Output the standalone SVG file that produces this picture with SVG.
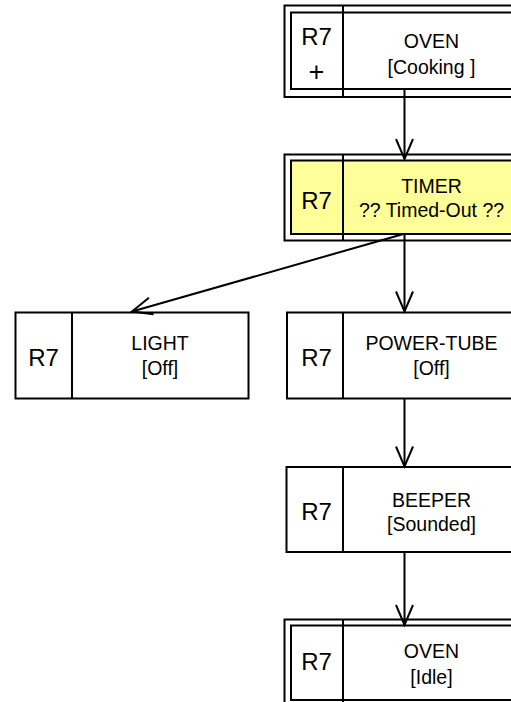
<svg xmlns="http://www.w3.org/2000/svg" width="511" height="702" viewBox="0 0 511 702">
<style>
.b{fill:#fff;stroke:#000;stroke-width:2}
.y{fill:#FFFF99;stroke:#000;stroke-width:2}
.d{stroke:#000;stroke-width:2}
.c{fill:none;stroke:#000;stroke-width:2}
.r{font-family:"Liberation Sans",Arial,sans-serif;font-size:24px;text-anchor:middle;fill:#000}
.t{font-family:"Liberation Sans",Arial,sans-serif;font-size:19.5px;text-anchor:middle;fill:#000}
</style>
<defs>
<marker id="ah" markerUnits="userSpaceOnUse" markerWidth="40" markerHeight="40" refX="0" refY="0" orient="auto" overflow="visible">
<path d="M-20,-8.5 L0,0 L-20,8.5" fill="none" stroke="#000" stroke-width="2"/>
</marker>
</defs>
<rect width="511" height="702" fill="#fff"/>
<g id="oven-cooking">
<rect class="b" x="284.5" y="5.5" width="240" height="91.5"/>
<rect class="b" x="291" y="12.5" width="230" height="76.5"/>
<line class="d" x1="343" y1="5.5" x2="343" y2="97"/>
<text class="r" x="316.5" y="45">R7</text>
<text class="r" x="316.5" y="81" style="font-size:27px">+</text>
<text class="t" x="431.5" y="48">OVEN</text>
<text class="t" x="431.5" y="74">[Cooking ]</text>
</g>
<g id="timer">
<rect class="b" x="284.5" y="154.5" width="240" height="86"/>
<rect class="y" x="291" y="160.5" width="230" height="73.5"/>
<line class="d" x1="343" y1="154.5" x2="343" y2="240.5"/>
<text class="r" x="316.5" y="209">R7</text>
<text class="t" x="431.5" y="193">TIMER</text>
<text class="t" x="431.5" y="217">?? Timed-Out ??</text>
</g>
<g id="light">
<rect class="b" x="15.5" y="312.5" width="233" height="86"/>
<line class="d" x1="72" y1="312.5" x2="72" y2="398.5"/>
<text class="r" x="43.5" y="366">R7</text>
<text class="t" x="160" y="350">LIGHT</text>
<text class="t" x="160" y="375">[Off]</text>
</g>
<g id="power-tube">
<rect class="b" x="287" y="312.5" width="233" height="86"/>
<line class="d" x1="343" y1="312.5" x2="343" y2="398.5"/>
<text class="r" x="316.5" y="366">R7</text>
<text class="t" x="431.5" y="350">POWER-TUBE</text>
<text class="t" x="431.5" y="375">[Off]</text>
</g>
<g id="beeper">
<rect class="b" x="286.5" y="467" width="233" height="85"/>
<line class="d" x1="343" y1="467" x2="343" y2="552"/>
<text class="r" x="316.5" y="520">R7</text>
<text class="t" x="431.5" y="507">BEEPER</text>
<text class="t" x="431.5" y="531">[Sounded]</text>
</g>
<g id="oven-idle">
<rect class="b" x="284.5" y="619.5" width="240" height="87"/>
<rect class="b" x="291" y="625.5" width="230" height="74.5"/>
<line class="d" x1="343" y1="619.5" x2="343" y2="706"/>
<text class="r" x="316.5" y="670">R7</text>
<text class="t" x="431.5" y="658">OVEN</text>
<text class="t" x="431.5" y="684">[Idle]</text>
</g>
<g id="connectors">
<line class="c" x1="404.5" y1="89" x2="404.5" y2="159" marker-end="url(#ah)"/>
<line class="c" x1="403.5" y1="234" x2="132" y2="311.5" marker-end="url(#ah)"/>
<line class="c" x1="404.5" y1="234" x2="404.5" y2="311.5" marker-end="url(#ah)"/>
<line class="c" x1="404.5" y1="398.5" x2="404.5" y2="466.5" marker-end="url(#ah)"/>
<line class="c" x1="404.5" y1="552" x2="404.5" y2="625" marker-end="url(#ah)"/>
</g>
</svg>
